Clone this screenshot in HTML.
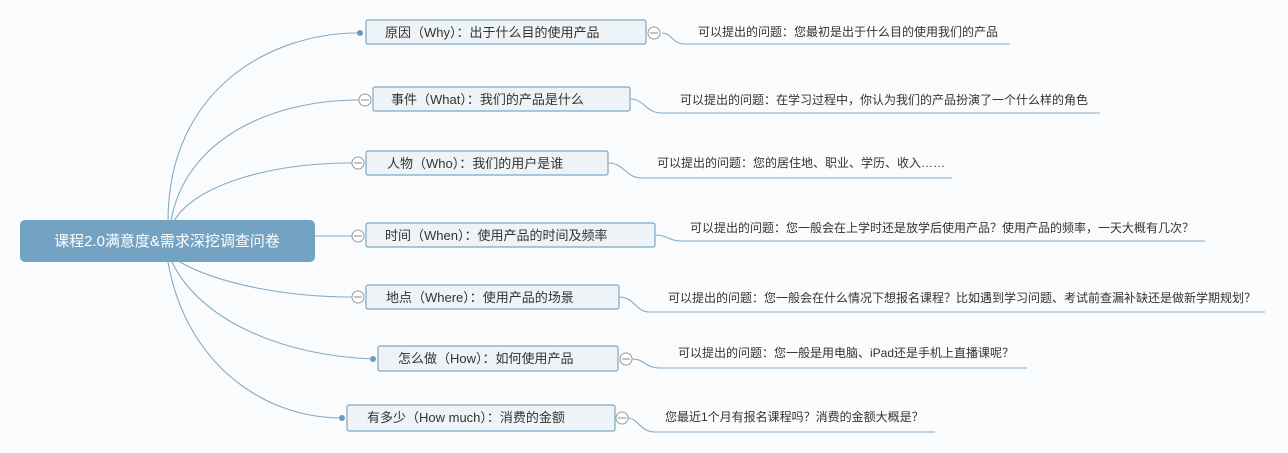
<!DOCTYPE html>
<html><head><meta charset="utf-8"><style>
html,body{margin:0;padding:0;background:#fafbfc;}
svg{display:block;font-family:"Liberation Sans","Noto Sans CJK SC",sans-serif;}
.b{fill:#eef3f7;stroke:#7fa7c4;stroke-width:1.2;}
.l{fill:none;stroke:#84abc8;stroke-width:1.1;}
.t{font-size:13px;fill:#333;}
.s{font-size:12px;fill:#333;}
.c{fill:#fff;stroke:#999;stroke-width:1;}
.d{fill:#6b9cc0;}
</style></head><body>
<svg width="1288" height="453" viewBox="0 0 1288 453">
<!-- root connectors -->
<path class="l" d="M168 221 C168 90 270 33 358 33"/>
<path class="l" d="M171 221 C185 140 270 100 359 100"/>
<path class="l" d="M174 221 C195 185 270 163 352 163"/>
<path class="l" d="M315 236 L352 236"/>
<path class="l" d="M180 262 C220 285 290 297 352 297"/>
<path class="l" d="M172 262 C200 320 280 355 373 359"/>
<path class="l" d="M168 262 C185 360 260 418 342 418"/>
<!-- root -->
<rect x="20" y="220" width="295" height="42" rx="5" fill="#74a2c2"/>
<text x="167" y="246" text-anchor="middle" font-size="15" fill="#fff">课程2.0满意度&amp;需求深挖调查问卷</text>

<!-- Why -->
<rect class="b" x="366" y="20" width="280" height="24" rx="2"/>
<text class="t" x="385" y="37">原因（Why）：出于什么目的使用产品</text>
<circle class="d" cx="360" cy="33" r="3"/>
<path class="l" d="M662 33 C672 33 672 44 685 44 L1010 44"/>
<circle class="c" cx="654" cy="33" r="6"/><line x1="650" y1="33" x2="658" y2="33" stroke="#888"/>
<text class="s" x="698" y="36">可以提出的问题：您最初是出于什么目的使用我们的产品</text>

<!-- What -->
<rect class="b" x="373" y="87" width="257" height="24" rx="2"/>
<text class="t" x="391" y="104">事件（What）：我们的产品是什么</text>
<circle class="c" cx="365" cy="100" r="6"/><line x1="361" y1="100" x2="369" y2="100" stroke="#888"/>
<path class="l" d="M630 99 C645 99 645 113 662 113 L1100 113"/>
<text class="s" x="680" y="104">可以提出的问题：在学习过程中，你认为我们的产品扮演了一个什么样的角色</text>

<!-- Who -->
<rect class="b" x="366" y="151" width="242" height="24" rx="2"/>
<text class="t" x="387" y="168">人物（Who）：我们的用户是谁</text>
<circle class="c" cx="358" cy="163" r="6"/><line x1="354" y1="163" x2="362" y2="163" stroke="#888"/>
<path class="l" d="M608 163 C625 163 625 178 642 178 L952 178"/>
<text class="s" x="657" y="167">可以提出的问题：您的居住地、职业、学历、收入……</text>

<!-- When -->
<rect class="b" x="366" y="223" width="289" height="24" rx="2"/>
<text class="t" x="385" y="240">时间（When）：使用产品的时间及频率</text>
<circle class="c" cx="358" cy="236" r="6"/><line x1="354" y1="236" x2="362" y2="236" stroke="#888"/>
<path class="l" d="M655 235 C668 235 668 241 682 241 L1205 241"/>
<text class="s" x="690" y="232">可以提出的问题：您一般会在上学时还是放学后使用产品？使用产品的频率，一天大概有几次？</text>

<!-- Where -->
<rect class="b" x="366" y="285" width="253" height="24" rx="2"/>
<text class="t" x="386" y="302">地点（Where）：使用产品的场景</text>
<circle class="c" cx="358" cy="297" r="6"/><line x1="354" y1="297" x2="362" y2="297" stroke="#888"/>
<path class="l" d="M619 297 C635 297 635 312 650 312 L1265 312"/>
<text class="s" x="668" y="302">可以提出的问题：您一般会在什么情况下想报名课程？比如遇到学习问题、考试前查漏补缺还是做新学期规划？</text>

<!-- How -->
<rect class="b" x="378" y="346" width="240" height="25" rx="2"/>
<text class="t" x="398" y="363">怎么做（How）：如何使用产品</text>
<circle class="d" cx="373" cy="359" r="3"/>
<path class="l" d="M632 359 C645 359 645 368 660 368 L1027 368"/>
<circle class="c" cx="626" cy="359" r="6"/><line x1="622" y1="359" x2="630" y2="359" stroke="#888"/>
<text class="s" x="678" y="357">可以提出的问题：您一般是用电脑、iPad还是手机上直播课呢？</text>

<!-- How much -->
<rect class="b" x="347" y="405" width="268" height="26" rx="2"/>
<text class="t" x="367" y="422">有多少（How much）：消费的金额</text>
<circle class="d" cx="342" cy="418" r="3"/>
<path class="l" d="M628 418 C638 418 640 432 655 432 L935 432"/>
<circle class="c" cx="622" cy="418" r="6"/><line x1="618" y1="418" x2="626" y2="418" stroke="#888"/>
<text class="s" x="665" y="421">您最近1个月有报名课程吗？消费的金额大概是？</text>
</svg>
</body></html>
